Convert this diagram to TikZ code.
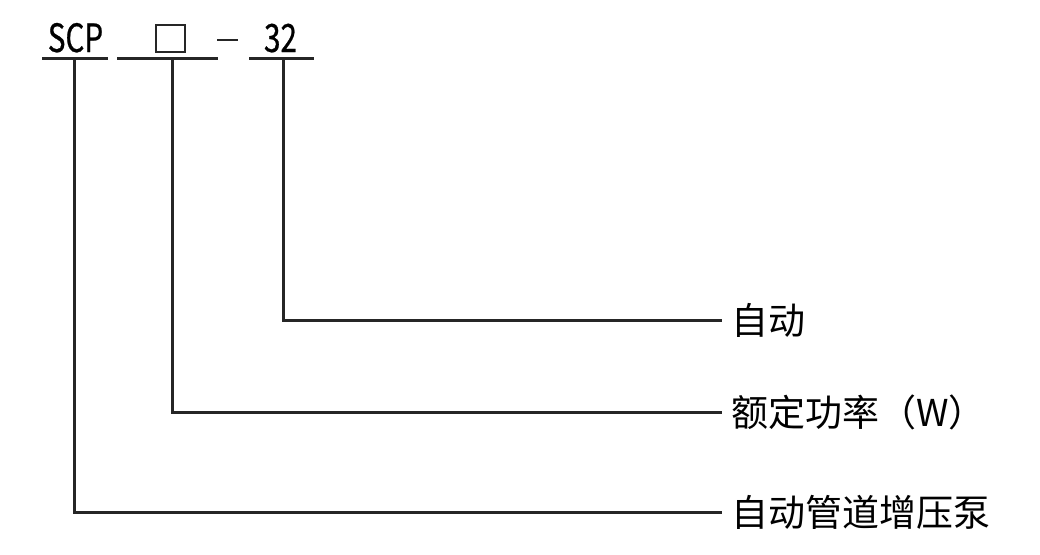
\documentclass[tikz,border=0pt]{standalone}
\usepackage{fontspec}
\setmainfont{Noto Sans CJK SC}
\newfontfamily\codefont[FakeStretch=0.76,FakeBold=0.6]{Noto Sans CJK SC}
\begin{document}
\begin{tikzpicture}[x=1pt,y=-1pt,
  ln/.style={line width=3pt,color=black!85},
  code/.style={inner sep=0pt,anchor=base,font=\codefont\fontsize{39}{39}\selectfont},
  lab/.style={anchor=west,inner xsep=9pt,inner ysep=0pt,font=\fontsize{37}{37}\selectfont}]
\useasboundingbox (0,0) rectangle (1040,554);
% code texts
\node[code] (scp) at (75.5,52) {SCP};
\node[code] (n32) at (280.5,52) {32};
\draw[line width=2.5pt,color=black!85] (156,25) rectangle (185,52);
\draw[line width=2pt,color=black!85] (217,40) -- (238,40);
% underlines
\coordinate (u1) at (74,58);
\coordinate (u2) at (172,58);
\coordinate (u3) at (283,58);
\draw[ln] (42,58) -- (108,58);
\draw[ln] (117,58) -- (218,58);
\draw[ln] (249,58) -- (314,58);
% labels
\node[lab] (l1) at (722,320) {自动};
\node[lab] (l2) at (722,412) {额定功率（W）};
\node[lab] (l3) at (722,512) {自动管道增压泵};
% connectors
\draw[ln] (u3) |- (l1.west);
\draw[ln] (u2) |- (l2.west);
\draw[ln] (u1) |- (l3.west);
\end{tikzpicture}
\end{document}
